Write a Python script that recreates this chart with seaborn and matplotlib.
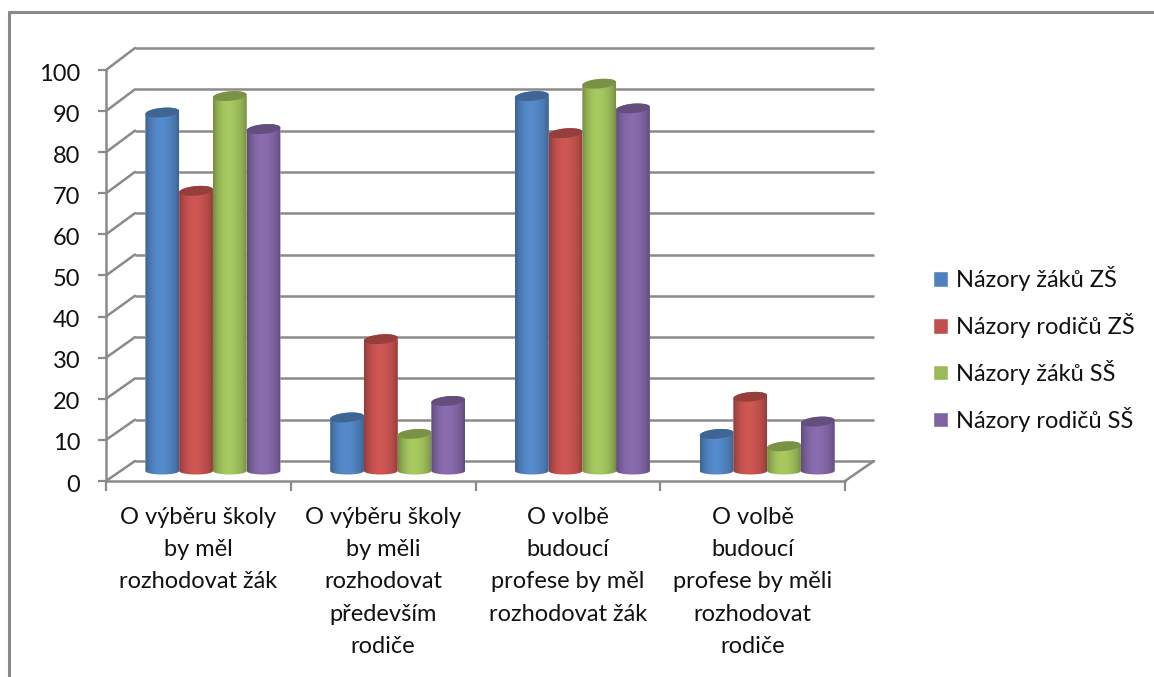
import numpy as np
import pandas as pd
import matplotlib
matplotlib.use("Agg")
import matplotlib.pyplot as plt
from matplotlib.patches import ConnectionPatch, PathPatch
from matplotlib.path import Path
from matplotlib.lines import Line2D
from matplotlib.transforms import ScaledTranslation
import seaborn as sns

# Survey results: who should decide about school and career choice
categories = [
    "O výběru školy\nby měl\nrozhodovat žák",
    "O výběru školy\nby měli\nrozhodovat\npředevším\nrodiče",
    "O volbě\nbudoucí\nprofese by měl\nrozhodovat žák",
    "O volbě\nbudoucí\nprofese by měli\nrozhodovat\nrodiče",
]
series_names = ["Názory žáků ZŠ", "Názory rodičů ZŠ", "Názory žáků SŠ", "Názory rodičů SŠ"]
zaci_zs = [87, 13, 91, 9]
rodice_zs = [68, 32, 82, 18]
zaci_ss = [91, 9, 94, 6]
rodice_ss = [83, 17, 88, 12]
colors = ["#4F81BD", "#C0504D", "#9BBB59", "#8064A2"]
y_ticks = list(range(0, 101, 10))

W, H = 1154, 677
GRID = "#8a8a8a"
TEXT = "#111111"
FONT_SIZE = 17

sns.set_theme(style="white")
plt.rcParams["font.family"] = ["Lato", "DejaVu Sans"]

df = pd.DataFrame({"kategorie": categories})
for name, vals in zip(series_names, [zaci_zs, rodice_zs, zaci_ss, rodice_ss]):
    df[name] = vals
long = df.melt(id_vars="kategorie", var_name="skupina", value_name="hodnota")

fig = plt.figure(figsize=(W / 100, H / 100), dpi=100, facecolor="white")


def axes_px(x0, x1, y_bottom, y_top, z):
    """Axes placed by pixel box, measured from the top-left corner of the figure."""
    ax = fig.add_axes([x0 / W, 1 - y_bottom / H, (x1 - x0) / W, (y_bottom - y_top) / H], zorder=z)
    ax.set_xlim(-0.5, len(categories) - 0.5)
    ax.set_ylim(0, 100)
    ax.patch.set_alpha(0)
    return ax


# Three parallel planes of the oblique view: back wall, front axis, bar row
ax_back = axes_px(135, 874, 461, 48, 0)
ax_front = axes_px(106, 845, 481, 70, 1)
ax_bar = axes_px(120.5, 859.5, 471, 59, 2)

# Back wall gridlines
ax_back.hlines(y_ticks, -0.5, len(categories) - 0.5, color=GRID, lw=1.8, clip_on=False)
ax_back.axis("off")

# Front axes with ticks and labels
ax_front.set_yticks(y_ticks)
ax_front.set_xticks(np.arange(len(categories) + 1) - 0.5)
ax_front.set_xticklabels([])
ax_front.set_xticks(np.arange(len(categories)), labels=categories, minor=True)
ax_front.tick_params(axis="y", left=True, length=6, width=1.6, color=GRID, labelsize=FONT_SIZE,
                     labelcolor=TEXT, pad=12.5)
ax_front.tick_params(axis="x", which="major", bottom=True, length=7, width=1.6, color=GRID, direction="out")
ax_front.tick_params(axis="x", which="minor", bottom=False, length=0, labelsize=FONT_SIZE,
                     labelcolor=TEXT, pad=19)
for lab in ax_front.get_xticklabels(minor=True):
    lab.set_linespacing(1.65)
    lab.set_verticalalignment("top")
nudge = ScaledTranslation(0, -1.5 / 72, fig.dpi_scale_trans)
for lab in ax_front.get_yticklabels():
    lab.set_transform(lab.get_transform() + nudge)
for side in ("top", "right"):
    ax_front.spines[side].set_visible(False)
for side in ("left", "bottom"):
    ax_front.spines[side].set_color(GRID)
    ax_front.spines[side].set_linewidth(1.8)

# Oblique links between the front axis and the back wall
links = [(-0.5, v) for v in y_ticks] + [(len(categories) - 0.5, 0)]
for xy in links:
    ax_front.add_artist(ConnectionPatch(xy, xy, "data", "data", axesA=ax_front, axesB=ax_back,
                                        color=GRID, lw=1.8, clip_on=False))

# Bars
sns.barplot(data=long, x="kategorie", y="hodnota", hue="skupina", order=categories,
            hue_order=series_names, palette=colors, width=0.73, gap=0, saturation=1,
            ax=ax_bar, legend=True)
ax_bar.set_xlim(-0.5, len(categories) - 0.5)
ax_bar.set_ylim(0, 100)
ax_bar.axis("off")

TOP_B, BASE_B, TILT = 1.15, 0.85, 0.35
shade = np.array([0.76, 0.90, 1.00, 1.06, 1.08, 1.07, 1.03, 0.98, 0.90, 0.76])


def rgb(c):
    return np.array(matplotlib.colors.to_rgb(c))


def ellipse_pts(cx, a, y, b, tilt, t):
    x = cx + a * np.cos(t)
    return np.column_stack([x, y + b * np.sin(t) + tilt * (x - cx) / a])


# Turn each flat bar into a shaded cylinder
for container, col in zip(ax_bar.containers, colors):
    base = rgb(col)
    for bar in container:
        x0, w, v = bar.get_x(), bar.get_width(), bar.get_height()
        cx, a = x0 + w / 2, w / 2
        lower = ellipse_pts(cx, a, 0, BASE_B, 0, np.linspace(np.pi, 2 * np.pi, 40))
        upper = ellipse_pts(cx, a, v, TOP_B, TILT, np.linspace(0, 2 * np.pi, 60))
        upper_back = ellipse_pts(cx, a, v, TOP_B, TILT, np.linspace(0, np.pi, 40))
        body = np.vstack([lower, upper_back, lower[:1]])
        body_patch = PathPatch(Path(body), transform=ax_bar.transData, fc="none", ec="none")
        ax_bar.add_patch(body_patch)
        bar.set_clip_path(body_patch)

        xs = np.linspace(0, 1, 120)
        factors = np.interp(xs, np.linspace(0, 1, len(shade)), shade)
        grad = np.clip(base[None, None, :] * factors[None, :, None], 0, 1)
        img = ax_bar.imshow(grad, extent=(x0, x0 + w, -2, v + 3), origin="lower",
                            aspect="auto", zorder=3, interpolation="bilinear")
        img.set_clip_path(body_patch)
        img.set_clip_box(fig.bbox)

        ax_bar.add_patch(PathPatch(Path(upper), facecolor=base * 0.78, edgecolor="none",
                                   zorder=4, clip_on=False))
ax_bar.set_xlim(-0.5, len(categories) - 0.5)
ax_bar.set_ylim(0, 100)

# Legend with square keys at the right of the plot
sns.move_legend(ax_bar, "center left", bbox_to_anchor=(933 / W, 1 - 349 / H),
                bbox_transform=fig.transFigure, title=None, frameon=False,
                fontsize=FONT_SIZE, handlelength=0.64, handleheight=0.64, handletextpad=0.35,
                labelspacing=0.93, labelcolor=TEXT, borderpad=0, borderaxespad=0)

# Outer chart frame
frame_kw = dict(color=GRID, lw=2.2, transform=fig.transFigure)
fig.add_artist(Line2D([8.5 / W, 8.5 / W], [1 - 11.5 / H, 0], **frame_kw))
fig.add_artist(Line2D([8.5 / W, 1], [1 - 11.5 / H, 1 - 11.5 / H], **frame_kw))

fig.savefig("out.png", dpi=100, facecolor="white")
